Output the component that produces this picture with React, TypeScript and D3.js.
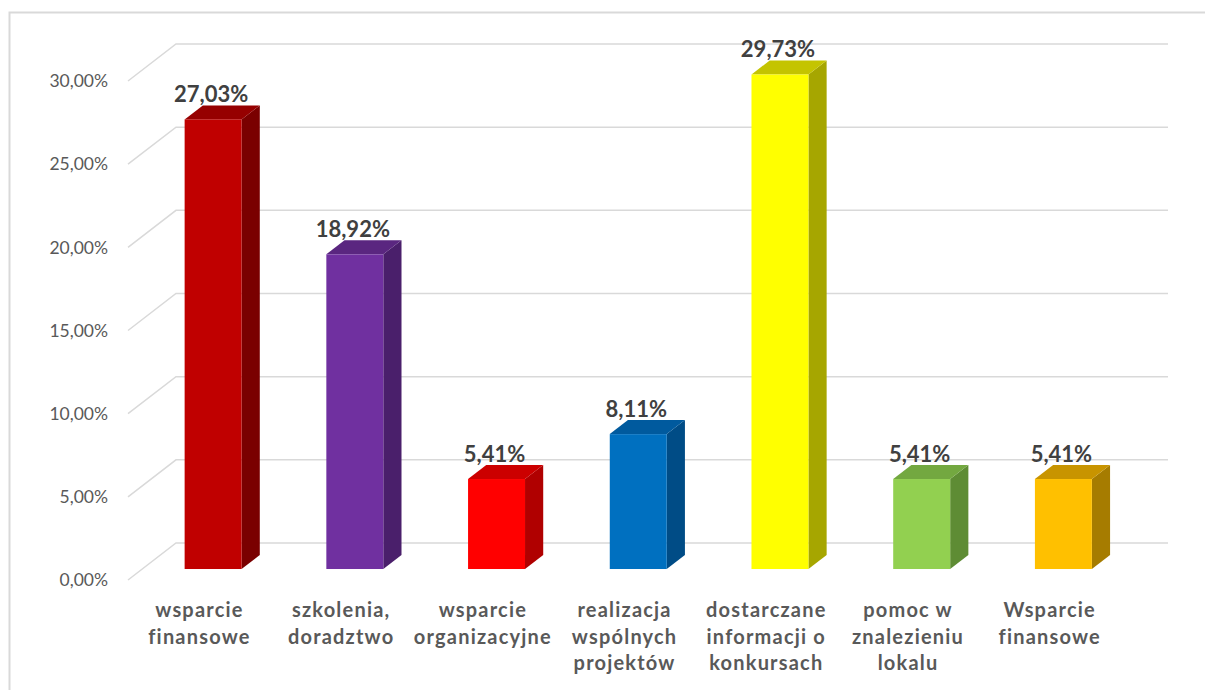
import React from "react";
import * as d3 from "d3";

const categories: string[][] = [
  ["wsparcie", "finansowe"],
  ["szkolenia,", "doradztwo"],
  ["wsparcie", "organizacyjne"],
  ["realizacja", "wspólnych", "projektów"],
  ["dostarczane", "informacji o", "konkursach"],
  ["pomoc w", "znalezieniu", "lokalu"],
  ["Wsparcie", "finansowe"],
];
const values: number[] = [27.03, 18.92, 5.41, 8.11, 29.73, 5.41, 5.41];
const ticks: number[] = [0, 5, 10, 15, 20, 25, 30];

const frontColors = ["#C00000", "#7030A0", "#FF0000", "#0070C0", "#FFFF00", "#92D050", "#FFC000"];
const sideColors = ["#7A0000", "#4A1F6B", "#B00000", "#004C86", "#A6A600", "#5E8C34", "#A67C00"];
const topColors = ["#960000", "#5A2680", "#CC0000", "#005A9E", "#C4C400", "#73A840", "#C89400"];

const fmt = (v: number) => v.toFixed(2).replace(".", ",") + "%";

export default function App() {
  const W = 1205;
  const H = 690;
  const frontLeft = 128;
  const frontRight = 1120;
  const DX = 48;
  const DY = -37;
  const f1 = 0.297;
  const f2 = 0.676;

  const x = d3
    .scaleBand<number>()
    .domain(d3.range(categories.length))
    .range([frontLeft, frontRight])
    .paddingInner(0)
    .paddingOuter(0);
  const y = d3.scaleLinear().domain([0, 30]).range([580, 81]);
  const step = x.step();
  const barW = step * 0.402;

  const font = "Lato, 'Open Sans', sans-serif";
  const ls = 1.2;

  return (
    <div style={{ position: "absolute", left: 0, top: 0 }}>
      <svg width={W} height={H} style={{ display: "block" }}>
        <rect x={0} y={0} width={W} height={H} fill="#fff" />
        <path d={`M9.5,${H} L9.5,12.5 L${W},12.5`} fill="none" stroke="#D9D9D9" strokeWidth={2} />
        {ticks.map((t) => {
          const yf = y(t);
          return (
            <g key={t}>
              <path
                d={`M${frontLeft},${yf} L${frontLeft + DX},${yf + DY} L${frontRight + DX},${yf + DY}`}
                fill="none"
                stroke="#D9D9D9"
                strokeWidth={1.5}
              />
              <text
                x={108}
                y={yf}
                dy="0.36em"
                textAnchor="end"
                fontFamily={font}
                fontSize={17.5}
                fill="#595959"
              >
                {fmt(t)}
              </text>
            </g>
          );
        })}
        {values.map((v, i) => {
          const cx = (x(i) as number) + step / 2;
          const l1 = cx - barW / 2 + DX * f1;
          const r1 = cx + barW / 2 + DX * f1;
          const l2 = cx - barW / 2 + DX * f2;
          const r2 = cx + barW / 2 + DX * f2;
          const b1 = y(0) + DY * f1;
          const t1 = y(v) + DY * f1;
          const b2 = y(0) + DY * f2;
          const t2 = y(v) + DY * f2;
          return (
            <g key={i}>
              <polygon points={`${r1},${t1} ${r2},${t2} ${r2},${b2} ${r1},${b1}`} fill={sideColors[i]} />
              <polygon points={`${l1},${t1} ${r1},${t1} ${r2},${t2} ${l2},${t2}`} fill={topColors[i]} />
              <rect x={l1} y={t1} width={barW} height={b1 - t1} fill={frontColors[i]} />
              <text
                x={cx + DX * f1 - 2}
                y={t2 - 3}
                textAnchor="middle"
                fontFamily={font}
                fontWeight="bold"
                fontSize={22}
                fill="#404040"
              >
                {fmt(v)}
              </text>
            </g>
          );
        })}
        {categories.map((lines, i) => {
          const cx = (x(i) as number) + step / 2 + ls / 2;
          return (
            <text
              key={i}
              x={cx}
              y={617}
              textAnchor="middle"
              fontFamily={font}
              fontWeight="bold"
              fontSize={20}
              letterSpacing={ls}
              fill="#595959"
            >
              {lines.map((ln, j) => (
                <tspan key={j} x={cx} y={617 + j * 26.5}>
                  {ln}
                </tspan>
              ))}
            </text>
          );
        })}
      </svg>
    </div>
  );
}
